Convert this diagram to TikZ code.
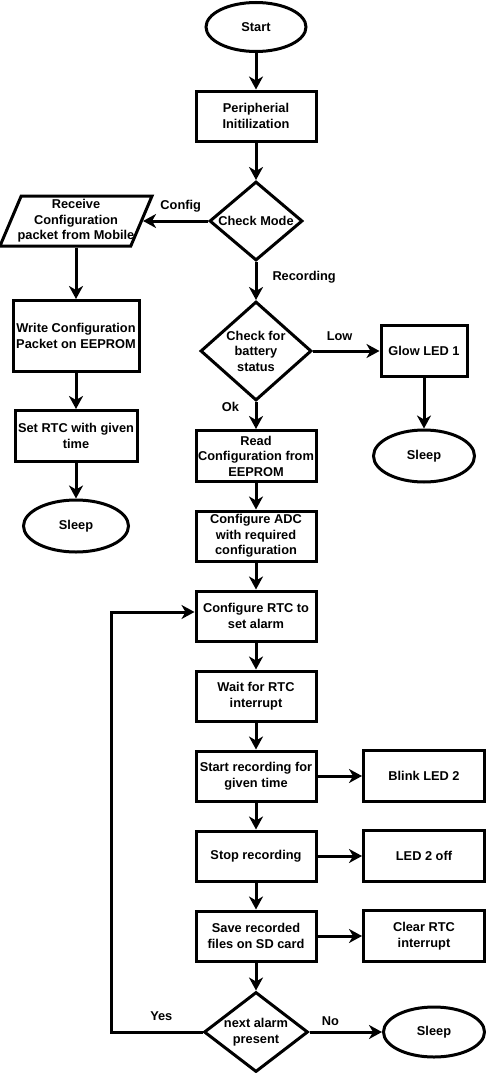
\documentclass[tikz,border=0pt]{standalone}
\usepackage{fontspec}
\setmainfont{Liberation Sans}
\usetikzlibrary{shapes.geometric, arrows.meta}

\begin{document}
\begin{tikzpicture}[x=1pt, y=-1pt, node distance=80pt, line width=3pt,
        font=\bfseries\fontsize{12.8}{15.5}\selectfont,
        process/.style = {draw, rectangle, align=center, inner sep=2pt, minimum width=120pt, minimum height=50pt},
        terminal/.style = {draw, ellipse, inner sep=0pt, minimum width=101pt, minimum height=51pt},
        decision/.style = {draw, diamond, inner sep=0pt},
        io/.style = {draw, trapezium, trapezium left angle=67, trapezium right angle=113, inner xsep=54.8pt, inner ysep=25pt},
        arr/.style = {-{Stealth[length=13pt, width=14pt, inset=4pt]}},
        lbl/.style = {inner sep=2pt, text height=9.2pt, text depth=2.7pt}]
        \useasboundingbox (0,0) rectangle (486,1073);

        % main column
        \node[terminal, minimum width=100pt, minimum height=49pt] (start) at (256,27) {Start};
        \node[process] (init) at (256,116) {Peripherial\\Initilization};
        \node[decision, minimum width=93pt, minimum height=79pt, label={center:Check Mode}] (mode) at (256,221) {};
        \node[decision, minimum width=111pt, minimum height=99pt, label={[align=center]center:Check for\\battery\\status}] (battery) at (256,351) {};
        \node[process, minimum height=51pt] (read) at (256,456) {Read\\Configuration from\\EEPROM};
        \node[process] (adc) [below of = read] {Configure ADC\\with required\\configuration};
        \node[process] (rtc) [below of = adc] {Configure RTC to\\set alarm};
        \node[process] (wait) [below of = rtc] {Wait for RTC\\interrupt};
        \node[process] (startrec) [below of = wait] {Start recording for\\given time};
        \node[process] (stop) [below of = startrec] {Stop recording};
        \node[process] (save) [below of = stop] {Save recorded\\files on SD card};
        \node[decision, minimum width=104pt, minimum height=80pt, label={[align=center]center:next alarm\\present}] (alarm) at (256,1032) {};

        % config branch
        \node[io, label={[align=center]center:Receive\\Configuration\\packet from Mobile}] (receive) at (76,221) {};
        \node[process, minimum width=126pt, minimum height=71pt] (write) at (76,336) {Write Configuration\\Packet on EEPROM};
        \node[process, minimum width=122pt, minimum height=51pt] (setrtc) at (76,436) {Set RTC with given\\time};
        \node[terminal, minimum width=105pt, minimum height=52pt] (sleepL) at (76,526) {Sleep};

        % right side
        \node[process, minimum width=86pt, minimum height=51pt] (glow) at (424,351) {Glow LED 1};
        \node[terminal, minimum height=52pt] (sleepR) at (424,456) {Sleep};
        \node[process, minimum width=121pt, minimum height=51pt, node distance=168pt] (blink) [right of = startrec] {Blink LED 2};
        \node[process, minimum width=121pt, minimum height=51pt, node distance=168pt] (ledoff) [right of = stop] {LED 2 off};
        \node[process, minimum width=121pt, minimum height=51pt, node distance=168pt] (clear) [right of = save] {Clear RTC\\interrupt};
        \node[terminal, minimum height=50pt] (sleepB) at (434,1032) {Sleep};
        \coordinate (loopbend) at (111,1032);

        \draw[arr] (start) -- (init);
        \draw[arr] (init) -- (mode);
        \draw[arr] (mode) -- (receive) node[lbl, pos=.42, above=5pt] {Config};
        \draw[arr] (mode) -- (battery) node[lbl, pos=.41, right=13pt] {Recording};
        \draw[arr] (receive) -- (write);
        \draw[arr] (write) -- (setrtc);
        \draw[arr] (setrtc) -- (sleepL);
        \draw[arr] (battery) -- (glow) node[lbl, pos=.4, above=4pt] {Low};
        \draw[arr] (glow) -- (sleepR);
        \draw[arr] (battery) -- (read) node[lbl, pos=.23, left=13.5pt] {Ok};
        \draw[arr] (read) -- (adc);
        \draw[arr] (adc) -- (rtc);
        \draw[arr] (rtc) -- (wait);
        \draw[arr] (wait) -- (startrec);
        \draw[arr] (startrec) -- (stop);
        \draw[arr] (stop) -- (save);
        \draw[arr] (save) -- (alarm);
        \draw[arr] (startrec) -- (blink);
        \draw[arr] (stop) -- (ledoff);
        \draw[arr] (save) -- (clear);
        \draw[arr] (alarm) -- (sleepB) node[lbl, pos=.29, above=.5pt] {No};
        \draw[arr] (alarm.west) -- (loopbend) node[lbl, pos=.45, above=5pt] {Yes} |- ([yshift=4pt]rtc.west);

    \end{tikzpicture}
\end{document}
